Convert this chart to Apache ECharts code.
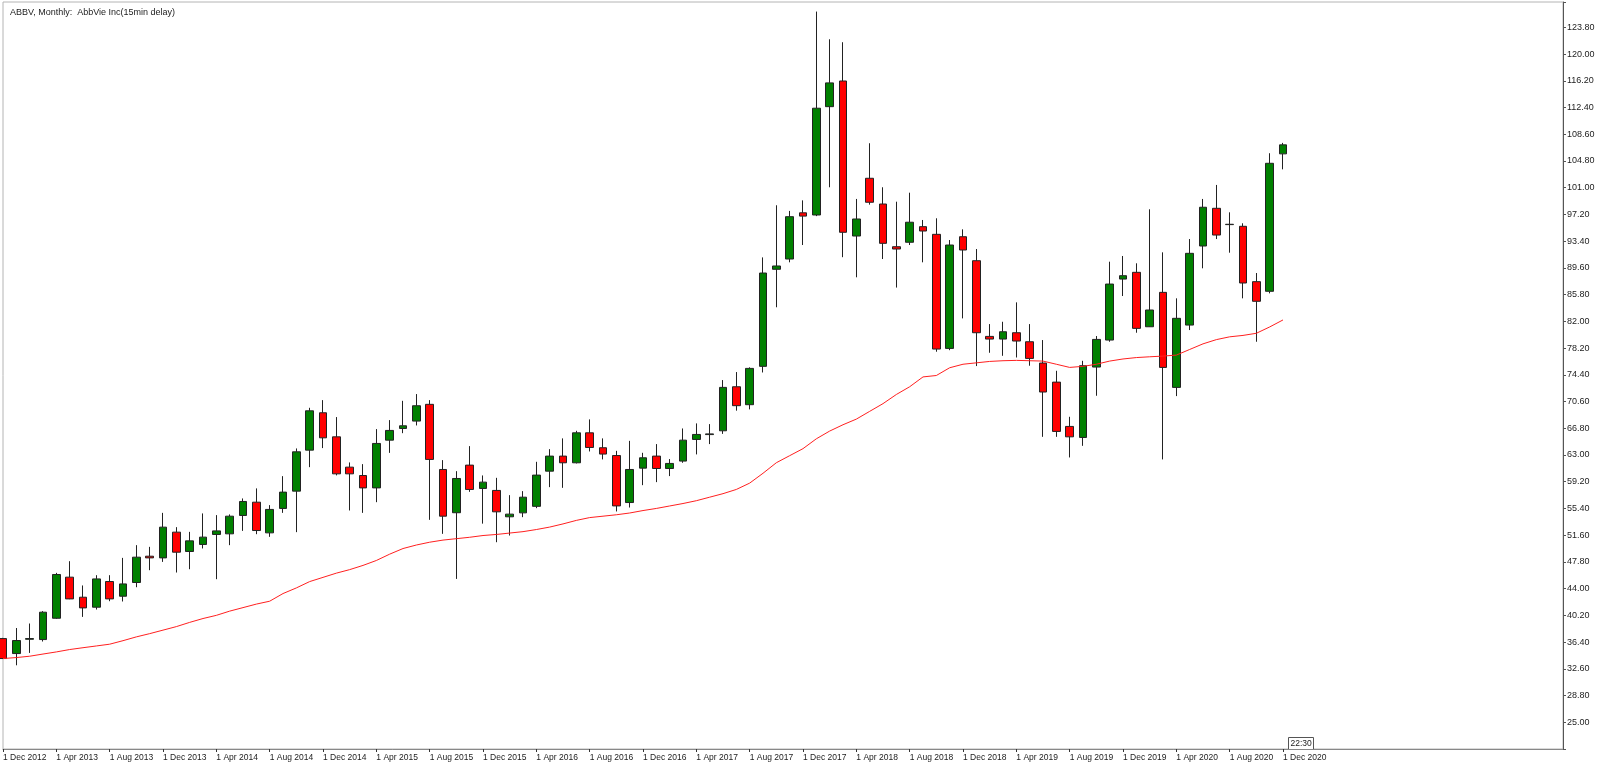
<!DOCTYPE html>
<html>
<head>
<meta charset="utf-8">
<title>ABBV Monthly</title>
<script src="https://cdn.jsdelivr.net/npm/echarts@6/dist/echarts.min.js"></script>
<style>
  html, body { margin: 0; padding: 0; background: #fff; }
  #chart { width: 1600px; height: 767px; }
</style>
</head>
<body>
<div id="chart"></div>
<script>
// monthly bars, Dec 2012 .. Dec 2020
var opens = [36.9, 34.77, 36.8, 36.76, 39.79, 45.63, 42.78, 41.36, 45.01, 42.92, 44.87, 48.61, 48.37,
  52.03, 49.28, 50.28, 51.7, 51.79, 54.4, 56.29, 51.93, 55.4, 57.86, 63.69, 69.0,
  65.58, 61.27, 60.08, 58.32, 65.11, 66.77, 67.82, 70.2, 60.94, 54.79, 61.56, 58.24,
  57.96, 54.21, 54.77, 55.7, 60.7, 62.84, 61.89, 66.15, 64.03, 62.92, 56.24, 61.13,
  62.84, 61.08, 62.13, 65.21, 65.9, 66.44, 72.7, 70.15, 75.6, 89.4, 90.86, 97.43,
  97.12, 112.52, 116.17, 94.13, 102.34, 98.68, 92.61, 93.24, 95.46, 94.37, 78.15, 94.03,
  90.62, 79.86, 79.48, 80.38, 79.1, 76.07, 73.36, 67.06, 65.49, 75.5, 79.34, 88.01,
  88.97, 81.23, 86.12, 72.61, 81.47, 92.71, 98.07, 95.75, 95.51, 87.64, 86.27, 105.81];
var closes = [34.06, 36.62, 36.9, 40.65, 46.01, 42.54, 41.26, 45.38, 42.54, 44.67, 48.47, 48.37, 52.74,
  49.18, 50.79, 51.32, 52.21, 54.3, 56.39, 52.26, 55.26, 57.72, 63.45, 69.28, 65.44,
  60.32, 60.32, 58.32, 64.64, 66.49, 67.15, 70.0, 62.37, 54.3, 59.66, 58.1, 59.14,
  54.92, 54.59, 57.0, 60.14, 62.84, 61.89, 66.15, 64.07, 63.13, 55.76, 60.94, 62.6,
  61.08, 61.8, 65.11, 65.92, 66.0, 72.61, 70.01, 75.31, 88.87, 89.87, 96.88, 96.96,
  112.3, 115.9, 94.66, 96.55, 98.93, 93.09, 92.28, 96.09, 94.84, 78.06, 92.85, 92.14,
  80.38, 79.48, 80.52, 79.2, 76.73, 71.95, 66.35, 65.58, 75.69, 79.43, 87.3, 88.49,
  81.0, 83.61, 75.45, 82.43, 91.67, 98.22, 94.27, 95.8, 87.45, 84.85, 104.47, 107.09];
var lows = [34.0, 33.1, 34.86, 36.48, 39.7, 42.5, 39.98, 41.03, 42.21, 42.17, 44.2, 46.62, 47.8,
  46.29, 46.76, 49.71, 45.34, 50.18, 52.21, 51.74, 51.36, 54.77, 52.03, 61.27, 63.98,
  60.1, 55.11, 54.77, 56.29, 63.3, 66.1, 67.2, 53.78, 51.79, 45.38, 57.76, 53.24,
  50.6, 51.55, 54.16, 55.44, 58.43, 58.33, 61.8, 63.5, 62.37, 54.97, 55.53, 58.71,
  59.14, 60.0, 61.89, 63.08, 64.55, 66.0, 69.3, 69.48, 74.73, 84.0, 90.39, 92.85,
  96.96, 101.06, 91.12, 88.26, 98.59, 90.86, 86.8, 92.85, 90.39, 77.68, 77.9, 82.42,
  75.64, 77.53, 77.1, 76.86, 75.69, 65.58, 65.58, 62.65, 64.3, 71.42, 79.1, 85.6,
  80.38, 81.2, 62.37, 71.37, 80.76, 89.54, 93.7, 91.76, 85.27, 79.1, 85.98, 103.61];
var highs = [37.0, 38.4, 39.04, 40.8, 46.24, 47.9, 44.45, 45.91, 45.91, 48.37, 50.18, 49.94, 54.77,
  52.74, 52.07, 54.69, 54.45, 54.55, 56.82, 58.25, 55.87, 59.99, 63.93, 69.71, 70.8,
  68.39, 61.94, 61.7, 66.68, 67.96, 70.7, 71.66, 70.8, 62.27, 60.7, 64.26, 60.09,
  59.75, 57.29, 57.86, 62.03, 63.83, 65.36, 66.44, 68.06, 65.36, 63.59, 65.01, 63.31,
  64.55, 62.42, 66.77, 67.49, 67.39, 73.65, 74.79, 75.46, 91.09, 98.5, 97.7, 99.2,
  126.04, 122.1, 121.68, 99.4, 107.32, 101.06, 99.01, 100.29, 96.41, 96.65, 93.56, 95.08,
  92.28, 81.61, 81.94, 84.7, 81.61, 79.34, 74.97, 68.43, 76.39, 79.91, 90.48, 91.29,
  90.25, 97.93, 91.81, 85.27, 93.7, 99.4, 101.39, 97.5, 95.94, 88.87, 105.9, 107.37];
// red moving average line
var maLine = [34.06, 34.2, 34.39, 34.7, 35.0, 35.34, 35.6, 35.85, 36.1, 36.6, 37.14, 37.6, 38.1,
  38.6, 39.2, 39.75, 40.2, 40.8, 41.3, 41.8, 42.21, 43.3, 44.1, 45.0, 45.6,
  46.2, 46.7, 47.3, 48.0, 48.9, 49.7, 50.2, 50.6, 50.9, 51.1, 51.3, 51.55,
  51.7, 51.9, 52.1, 52.4, 52.75, 53.2, 53.7, 54.1, 54.3, 54.5, 54.75, 55.1,
  55.4, 55.75, 56.1, 56.5, 57.0, 57.5, 58.1, 59.0, 60.4, 61.9, 62.9, 63.9,
  65.3, 66.4, 67.3, 68.1, 69.2, 70.3, 71.6, 72.7, 74.1, 74.3, 75.4, 75.9,
  76.1, 76.3, 76.4, 76.45, 76.4, 76.35, 75.9, 75.45, 75.6, 75.9, 76.35, 76.65,
  76.85, 76.96, 77.06, 77.2, 78.0, 78.8, 79.4, 79.8, 80.0, 80.3, 81.2, 82.2];

var monthNames = ['Jan', 'Feb', 'Mar', 'Apr', 'May', 'Jun', 'Jul', 'Aug', 'Sep', 'Oct', 'Nov', 'Dec'];
var categories = [];
for (var k = 0; k < opens.length; k++) {
  var m = (11 + k) % 12;
  var y = 2012 + Math.floor((11 + k) / 12);
  categories.push('1 ' + monthNames[m] + ' ' + y);
}
// empty space to the right of the last bar
var padSlots = 21;
for (var p = 0; p < padSlots; p++) categories.push('');

var candles = opens.map(function (o, i) {
  return [o, closes[i], lows[i], highs[i]];
});

var FONT = 'Liberation Sans';
var showEvery4 = function (index, value) {
  return index % 4 === 0 && value !== '';
};

var myChart = echarts.init(document.getElementById('chart'));
var option = {
  backgroundColor: '#fff',
  animation: false,
  title: {
    text: 'ABBV, Monthly:  AbbVie Inc(15min delay)',
    left: 5,
    top: 3,
    textStyle: { fontSize: 9, fontWeight: 'normal', color: '#222', fontFamily: FONT }
  },
  grid: {
    left: 2, right: 37, top: 2, bottom: 18,
    show: true, borderColor: '#b4b4b4', borderWidth: 1
  },
  xAxis: {
    type: 'category',
    data: categories,
    boundaryGap: false,
    axisLine: { lineStyle: { color: '#888' } },
    axisTick: { length: 3, interval: showEvery4, lineStyle: { color: '#333' } },
    axisLabel: {
      interval: showEvery4, align: 'left', margin: 4,
      fontSize: 8.5, color: '#222', fontFamily: FONT
    },
    splitLine: { show: false }
  },
  yAxis: {
    type: 'value',
    position: 'right',
    min: 21.2,
    max: 127.4,
    interval: 3.8,
    axisLine: { show: true, lineStyle: { color: '#555' } },
    axisTick: { show: true, length: 3, lineStyle: { color: '#555' } },
    axisLabel: {
      margin: 4, fontSize: 9, color: '#222', fontFamily: FONT,
      formatter: function (v) {
        return (v < 24.9 || v > 124) ? '' : v.toFixed(2);
      }
    },
    splitLine: { show: false }
  },
  series: [
    {
      type: 'candlestick',
      data: candles,
      barWidth: 8,
      itemStyle: {
        color: '#008000',
        color0: '#ff0000',
        borderColor: '#222',
        borderColor0: '#222',
        borderWidth: 1
      }
    },
    {
      type: 'line',
      data: maLine,
      symbol: 'none',
      silent: true,
      lineStyle: { color: '#ff2020', width: 1 }
    }
  ],
  graphic: [
    {
      type: 'group',
      left: 1288,
      top: 737,
      children: [
        { type: 'rect', shape: { x: 0, y: 0, width: 25, height: 12 }, style: { fill: '#fff', stroke: '#555', lineWidth: 1 } },
        { type: 'text', x: 2, y: 2, style: { text: '22:30', fontSize: 8.5, fill: '#222', fontFamily: FONT } }
      ]
    }
  ]
};
myChart.setOption(option);
</script>
</body>
</html>
